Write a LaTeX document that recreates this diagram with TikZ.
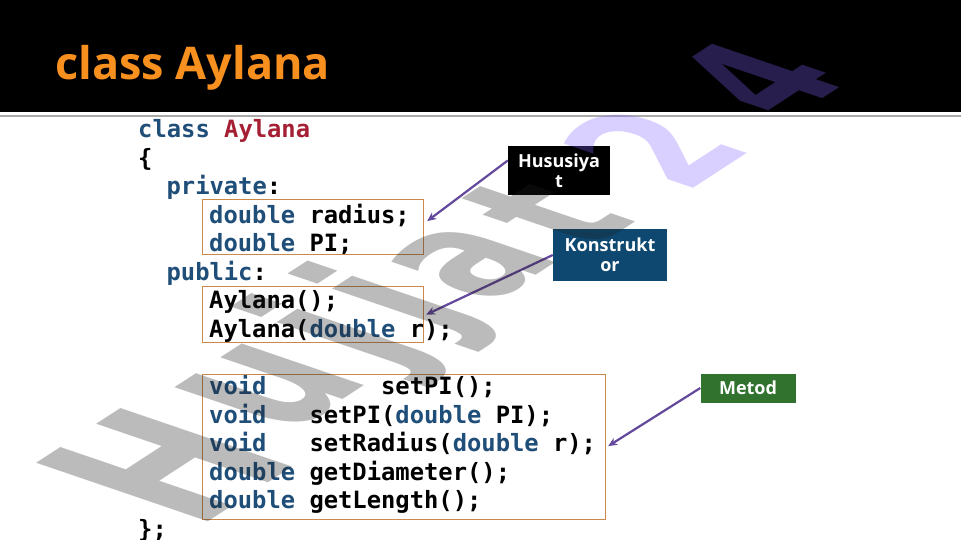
\documentclass[tikz,border=0pt]{standalone}
\usepackage{fontspec}
\usetikzlibrary{arrows.meta,calc}
\newfontfamily\codefont{DejaVu Sans Mono}
\newfontfamily\osans{Open Sans}
\newfontfamily\wmfont{DejaVu Sans}
\definecolor{kw}{RGB}{31,78,121}
\definecolor{cn}{RGB}{165,32,52}
\definecolor{titleor}{RGB}{247,144,30}
\definecolor{boxor}{RGB}{200,137,74}
\definecolor{konblue}{RGB}{14,72,112}
\definecolor{metgreen}{RGB}{48,114,46}
\definecolor{arrpurple}{RGB}{100,72,156}
\definecolor{wmgray}{RGB}{30,30,30}
\definecolor{wmpurple}{RGB}{133,100,255}
\newcommand{\kw}[1]{\textcolor{kw}{#1}}
\newcommand{\cn}[1]{\textcolor{cn}{#1}}
\tikzset{
  code/.style={anchor=base west, inner sep=0pt, font=\codefont\bfseries\fontsize{23.8}{28}\selectfont},
  obox/.style={draw=boxor, line width=1.2pt, inner sep=0pt, anchor=north west},
  lbl/.style={text=white, inner sep=0pt, align=center, font=\osans\bfseries\fontsize{18}{20}\selectfont},
  conn/.style={draw=arrpurple, line width=2.2pt, -{Stealth[length=9pt,width=8pt]}},
  wmstyle/.style={transform shape, inner sep=0pt, opacity=0.3, font=\wmfont\bfseries\fontsize{100}{100}\selectfont},
}
% watermark letter: name, x, y, size factor, coloured glyph
\newcommand{\wml}[5]{%
  \begin{scope}[shift={(#2,#3)}, rotate=33, xscale={1.14*#4}, yscale={1.45*#4}, xslant=-1.0]
    \node[wmstyle] (#1) at (0,0) {#5};
  \end{scope}}
\begin{document}
\begin{tikzpicture}[x=1pt,y=-1pt]
\useasboundingbox (0,0) rectangle (961,540);
\fill[white] (0,0) rectangle (961,540);
% header
\fill[black] (0,0) rectangle (961,112);
\draw[color={rgb,255:red,170;green,170;blue,170}, line width=2pt] (0,116) -- (961,116);
\node[anchor=base west, inner sep=0pt, text=titleor, font=\osans\bfseries\fontsize{45}{50}\selectfont] (title) at (55,80) {class Aylana};
% code
\node[code] (l0) at (138,137.5) {\kw{class} \cn{Aylana}};
\node[code] (l1) at (138,166.1) {\{};
\node[code] (l2) at (166.4,194.6) {\kw{private}:};
\node[code] (l3) at (209,223.2) {\kw{double} radius;};
\node[code] (l4) at (209,251.8) {\kw{double} PI;};
\node[code] (l5) at (166.4,280.4) {\kw{public}:};
\node[code] (l6) at (209,308.9) {Aylana();};
\node[code] (l7) at (209,337.5) {Aylana(\kw{double} r);};
\node[code] (l9) at (209,394.6) {\kw{void}~~~~~~~~setPI();};
\node[code] (l10) at (209,423.2) {\kw{void}~~~setPI(\kw{double} PI);};
\node[code] (l11) at (209,451.8) {\kw{void}~~~setRadius(\kw{double} r);};
\node[code] (l12) at (209,480.4) {\kw{double} getDiameter();};
\node[code] (l13) at (209,508.9) {\kw{double} getLength();};
\node[code] (l14) at (138,537.5) {\};};
% orange boxes
\node[obox, minimum width=221pt, minimum height=55pt] (b1) at (202,199) {};
\node[obox, minimum width=221pt, minimum height=56pt] (b2) at (202,286) {};
\node[obox, minimum width=403pt, minimum height=145pt] (b3) at (202,374) {};
% labels
\node[lbl, fill=black, minimum width=102pt, minimum height=49pt] (hus) at (559,170.5) {Hususiya\\t};
\node[lbl, fill=konblue, minimum width=114pt, minimum height=52pt] (kon) at (610,255) {Konstrukt\\or};
\node[lbl, fill=metgreen, minimum width=95pt, minimum height=29pt] (met) at (748,388) {Metod};
% connectors
\draw[conn] ($(hus.west)+(0,-10)$) -- ($(b1.east)+(3,-6)$);
\draw[conn] (kon.west) -- ($(b2.east)+(2,0)$);
\draw[conn] (met.west) -- ($(b3.east)+(2,-1)$);
% watermark
\wml{wH}{165}{465}{1.35}{\textcolor{wmgray}{H}}
\wml{wu}{272}{387}{1.28}{\textcolor{wmgray}{u}}
\wml{wj}{347}{336}{1.24}{\textcolor{wmgray}{j}}
\wml{wjj}{400}{302}{1.20}{\textcolor{wmgray}{j}}
\wml{wa}{472}{262}{1.16}{\textcolor{wmgray}{a}}
\wml{wt}{545}{212}{1.12}{\textcolor{wmgray}{t}}
\wml{wtwo}{652}{147}{1.06}{\textcolor{wmpurple}{2}}
\wml{wfour}{757}{78}{1.00}{\textcolor{wmpurple}{4}}
\end{tikzpicture}
\end{document}
